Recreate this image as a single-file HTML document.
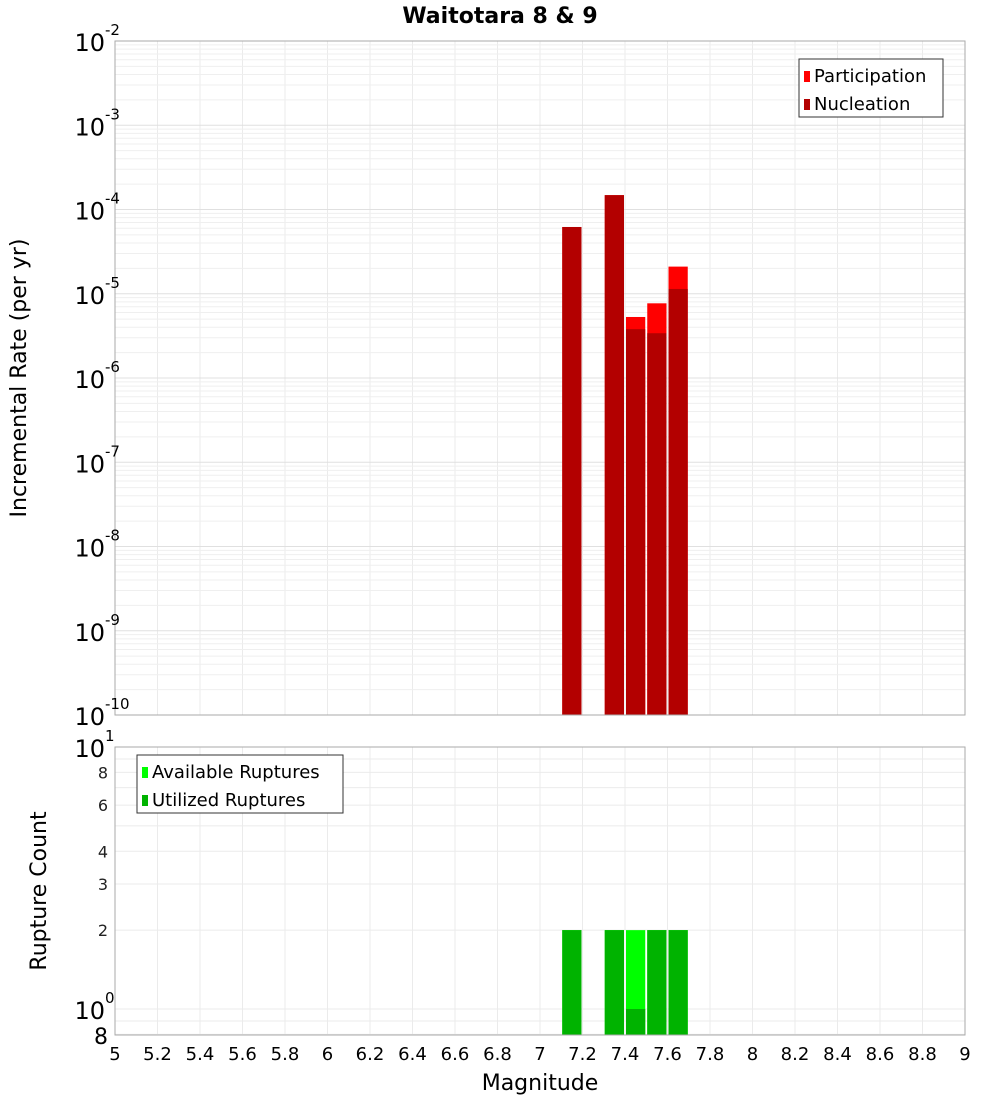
<!DOCTYPE html>
<html><head><meta charset="utf-8"><style>
body{margin:0;background:#fff;}
svg{display:block;font-family:"DejaVu Sans","Liberation Sans",sans-serif;}
</style></head><body>
<svg id="c" width="1000" height="1100"></svg>
<script>
const mags=[7.15,7.35,7.45,7.55,7.65];
const participation=[6.2e-5,1.48e-4,5.3e-6,7.7e-6,2.1e-5];
const nucleation=[6.2e-5,1.48e-4,3.8e-6,3.4e-6,1.14e-5];
const available=[2,2,2,2,2];
const utilized=[2,2,1,2,2];
const xTicks=[5,5.2,5.4,5.6,5.8,6,6.2,6.4,6.6,6.8,7,7.2,7.4,7.6,7.8,8,8.2,8.4,8.6,8.8,9];
const topExps=[-2,-3,-4,-5,-6,-7,-8,-9,-10];
const botTicks=[8,6,4,3,2];

const NS="http://www.w3.org/2000/svg",svg=document.getElementById('c');
function el(t,a,p){const e=document.createElementNS(NS,t);for(const k in a)e.setAttribute(k,a[k]);(p||svg).appendChild(e);return e;}
const L=115,R=965;
const x=m=>L+(m-5)/4*(R-L);
const T0=41,T1=715;
const yT=v=>T0+(-2-Math.log10(v))/8*(T1-T0);
const B0=747,B1=1035;
const yB=v=>B0+(1-Math.log10(v))*262;

// title
let t=el('text',{x:500,y:23,'text-anchor':'middle','font-size':22,'font-weight':'bold'});t.textContent='Waitotara 8 & 9';


// grids
const g=el('g',{});
xTicks.forEach(m=>{el('line',{x1:x(m),x2:x(m),y1:T0,y2:T1,stroke:'#ebebeb'},g);el('line',{x1:x(m),x2:x(m),y1:B0,y2:B1,stroke:'#ebebeb'},g);});
for(let e=-10;e<-2;e++)for(let k=1;k<10;k++){const yy=yT(k*Math.pow(10,e));el('line',{x1:L,x2:R,y1:yy,y2:yy,stroke:k==1?'#e0e0e0':'#efefef'},g);}
[0.8,0.9,1,2,3,4,5,6,7,8,9].forEach(v=>{const yy=yB(v);el('line',{x1:L,x2:R,y1:yy,y2:yy,stroke:'#ebebeb'},g);});

// top bars
const bw=(x(0.1)-x(0))-2;
mags.forEach((m,i)=>{
 let r=el('rect',{x:x(m)-bw/2,y:yT(participation[i]),width:bw,height:T1-yT(participation[i]),fill:'#ff0000'});
 
 r=el('rect',{x:x(m)-bw/2,y:yT(nucleation[i]),width:bw,height:T1-yT(nucleation[i]),fill:'#b30000'});
 
 r=el('rect',{x:x(m)-bw/2,y:yB(available[i]),width:bw,height:B1-yB(available[i]),fill:'#00ff00'});
 
 r=el('rect',{x:x(m)-bw/2,y:yB(utilized[i]),width:bw,height:B1-yB(utilized[i]),fill:'#00b300'});
 
});

// frames
el('rect',{x:L,y:T0,width:R-L,height:T1-T0,fill:'none',stroke:'#aaa'});
el('rect',{x:L,y:B0,width:R-L,height:B1-B0,fill:'none',stroke:'#aaa'});

// top y labels
topExps.forEach(e=>{const yy=yT(Math.pow(10,e));
 const tx=el('text',{x:105,y:yy+10,'text-anchor':'end','font-size':24});
 
 tx.textContent='10';
 const s=el('text',{x:105,y:yy-6,'font-size':15});s.textContent=String(e);
 
});
// bottom y labels
[[10,'1'],[1,'0']].forEach(([v,ex])=>{const yy=yB(v);
 const tx=el('text',{x:105,y:yy+10,'text-anchor':'end','font-size':24});tx.textContent='10';
 
 const s=el('text',{x:105,y:yy-6,'font-size':15});s.textContent=ex;
 
});
botTicks.forEach(v=>{const tx=el('text',{x:108,y:yB(v)+6,'text-anchor':'end','font-size':16,fill:'#222'});tx.textContent=String(v);
 });
t=el('text',{x:108,y:B1+9,'text-anchor':'end','font-size':22});t.textContent='8';


// x labels
xTicks.forEach(m=>{const tx=el('text',{x:x(m),y:1060,'text-anchor':'middle','font-size':18});tx.textContent=String(m);
 });
t=el('text',{x:540,y:1090,'text-anchor':'middle','font-size':22});t.textContent='Magnitude';

t=el('text',{x:0,y:0,'text-anchor':'middle','font-size':22,transform:'translate(26,378) rotate(-90)'});t.textContent='Incremental Rate (per yr)';

t=el('text',{x:0,y:0,'text-anchor':'middle','font-size':22,transform:'translate(46,891) rotate(-90)'});t.textContent='Rupture Count';


// legends
function legend(x0,y0,w,items,name){
 const lg=el('g',{});
 el('rect',{x:x0,y:y0,width:w,height:58,fill:'#fff',stroke:'#333'},lg);
 items.forEach(([c,l],i)=>{el('rect',{x:x0+5,y:y0+12+i*28,width:6,height:11,fill:c},lg);
  const tx=el('text',{x:x0+15,y:y0+23+i*28,'font-size':18},lg);tx.textContent=l;});
}
legend(799,59,144,[['#ff0000','Participation'],['#b30000','Nucleation']],'top-legend');
legend(137,755,206,[['#00ff00','Available Ruptures'],['#00b300','Utilized Ruptures']],'bottom-legend');
</script>
</body></html>
